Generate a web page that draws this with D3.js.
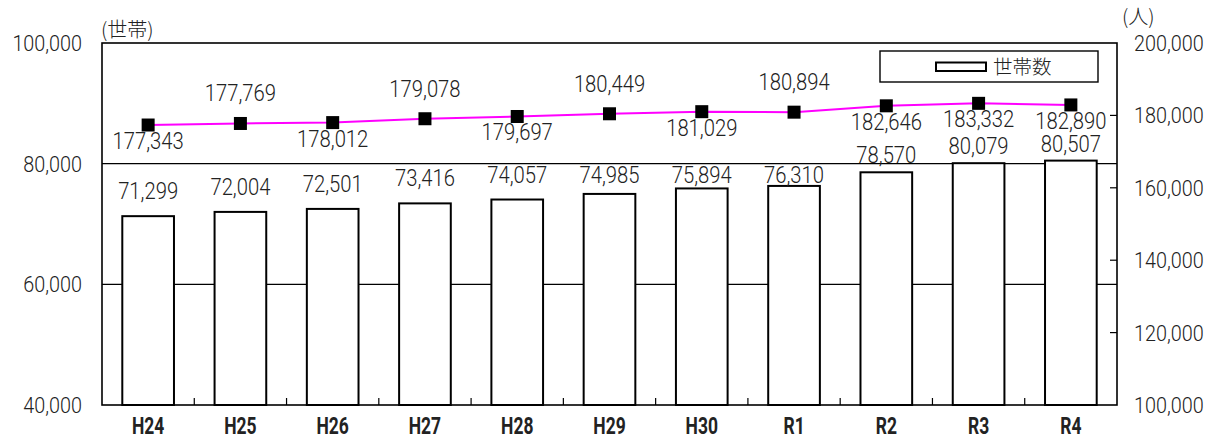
<!DOCTYPE html>
<html lang="ja">
<head>
<meta charset="UTF-8">
<title>世帯数と人口の推移</title>
<script src="https://d3js.org/d3.v7.min.js"></script>
<style>
  * { margin: 0; padding: 0; }
  body { background: #fff; width: 1211px; height: 441px; overflow: hidden; }
  svg { display: block; font-family: "Noto Sans CJK JP", "Noto Sans", sans-serif; }
  .num { font-family: Roboto, "Noto Sans CJK JP", sans-serif; font-weight: 300; }
  .cat { font-family: Roboto, sans-serif; font-weight: bold; }
</style>
</head>
<body>
<svg id="chart" width="1211" height="441"></svg>
<script>
// 年度
const years = ["H24", "H25", "H26", "H27", "H28", "H29", "H30", "R1", "R2", "R3", "R4"];
// 世帯数（棒）
const households = [71299, 72004, 72501, 73416, 74057, 74985, 75894, 76310, 78570, 80079, 80507];
// 人口（折れ線）
const population = [177343, 177769, 178012, 179078, 179697, 180449, 181029, 180894, 182646, 183332, 182890];
// 人口ラベルの位置
const popSide = ["below", "above", "below", "above", "below", "above", "below", "above", "below", "below", "below"];
// 目盛
const leftTicks = [40000, 60000, 80000, 100000];
const rightTicks = [100000, 120000, 140000, 160000, 180000, 200000];

const svg = d3.select("#chart");
const plot = { left: 102, right: 1117, top: 43, bottom: 405 };

const x = d3.scaleBand().domain(years).range([plot.left, plot.right]).paddingInner(0.44).paddingOuter(0.22);
const band = d3.scaleBand().domain(years).range([plot.left, plot.right]);
const yL = d3.scaleLinear().domain([40000, 100000]).range([plot.bottom, plot.top]);
const yR = d3.scaleLinear().domain([100000, 200000]).range([plot.bottom, plot.top]);
const fmt = d3.format(",");

// 横方向を縮めた文字
function label(g, tx, ty, txt, opt) {
  const o = Object.assign({ size: 22, sx: 0.9, anchor: "middle", weight: null, dy: "0", cls: "num" }, opt);
  g.append("text")
    .attr("class", o.cls)
    .attr("transform", `translate(${tx},${ty}) scale(${o.sx},1)`)
    .attr("text-anchor", o.anchor)
    .attr("dy", o.dy)
    .attr("font-size", o.size)
    .style("font-weight", o.weight)
    .attr("fill", "#222")
    .text(txt);
}

// 補助線
svg.append("g").selectAll("line")
  .data([60000, 80000])
  .join("line")
  .attr("x1", plot.left).attr("x2", plot.right)
  .attr("y1", d => yL(d)).attr("y2", d => yL(d))
  .attr("stroke", "#000").attr("stroke-width", 1.2);

// 棒
svg.append("g").selectAll("rect")
  .data(households)
  .join("rect")
  .attr("x", (d, i) => x(years[i]))
  .attr("y", d => yL(d))
  .attr("width", x.bandwidth())
  .attr("height", d => yL(40000) - yL(d))
  .attr("fill", "#fff")
  .attr("stroke", "#000")
  .attr("stroke-width", 2);

// 枠
svg.append("rect")
  .attr("x", plot.left).attr("y", plot.top)
  .attr("width", plot.right - plot.left).attr("height", plot.bottom - plot.top)
  .attr("fill", "none").attr("stroke", "#000").attr("stroke-width", 1.6);

// 下の目盛（区切り）
svg.append("g").selectAll("line")
  .data(years.slice(1))
  .join("line")
  .attr("x1", d => band(d)).attr("x2", d => band(d))
  .attr("y1", plot.bottom).attr("y2", plot.bottom - 7)
  .attr("stroke", "#000").attr("stroke-width", 1.2);

// 右の目盛
svg.append("g").selectAll("line")
  .data(rightTicks.slice(1, -1))
  .join("line")
  .attr("x1", plot.right - 7).attr("x2", plot.right)
  .attr("y1", d => yR(d)).attr("y2", d => yR(d))
  .attr("stroke", "#000").attr("stroke-width", 1.2);

const txt = svg.append("g");

// 軸ラベル
leftTicks.forEach(v => label(txt, 82, yL(v), fmt(v), { anchor: "end", dy: "0.36em" }));
rightTicks.forEach(v => label(txt, 1134, yR(v), fmt(v), { anchor: "start", dy: "0.36em" }));
years.forEach(d => label(txt, band(d) + band.bandwidth() / 2, 434, d, { size: 23, sx: 0.76, cls: "cat" }));

label(txt, 101, 37, "(世帯)", { anchor: "start", size: 20, sx: 1, cls: "unit", weight: 300 });
label(txt, 1122, 24, "(人)", { anchor: "start", size: 20, sx: 1, cls: "unit", weight: 300 });

// 折れ線
const line = d3.line()
  .x((d, i) => band(years[i]) + band.bandwidth() / 2)
  .y(d => yR(d));

svg.append("path")
  .datum(population)
  .attr("d", line)
  .attr("fill", "none")
  .attr("stroke", "#ff00ff")
  .attr("stroke-width", 2);

svg.append("g").selectAll("rect")
  .data(population)
  .join("rect")
  .attr("x", (d, i) => band(years[i]) + band.bandwidth() / 2 - 6.5)
  .attr("y", d => yR(d) - 6.5)
  .attr("width", 13).attr("height", 13)
  .attr("fill", "#000");

// 棒の値
households.forEach((v, i) => {
  const top = yL(v);
  let b = top - 17;
  if (b < 183 && top > 180) b = Math.min(183, top - 2);
  else if (top <= 180) b = top - 9;
  label(txt, x(years[i]) + x.bandwidth() / 2, b, fmt(v), { size: 23, sx: 0.88 });
});

// 人口の値
population.forEach((v, i) => {
  const cx = band(years[i]) + band.bandwidth() / 2;
  const b = popSide[i] === "above" ? yR(v) - 22 : yR(v) + 24;
  label(txt, cx, b, fmt(v), { size: 23, sx: 0.88 });
});

// 凡例
const lg = svg.append("g");
lg.append("rect")
  .attr("x", 880).attr("y", 51).attr("width", 218).attr("height", 31)
  .attr("fill", "#fff").attr("stroke", "#000").attr("stroke-width", 1.4);
lg.append("rect")
  .attr("x", 936).attr("y", 62.5).attr("width", 50).attr("height", 8.5)
  .attr("fill", "#fff").attr("stroke", "#000").attr("stroke-width", 2);
label(lg, 993, 66.5, "世帯数", { anchor: "start", size: 19.5, sx: 1, dy: "0.36em", cls: "unit", weight: 300 });
</script>
</body>
</html>
